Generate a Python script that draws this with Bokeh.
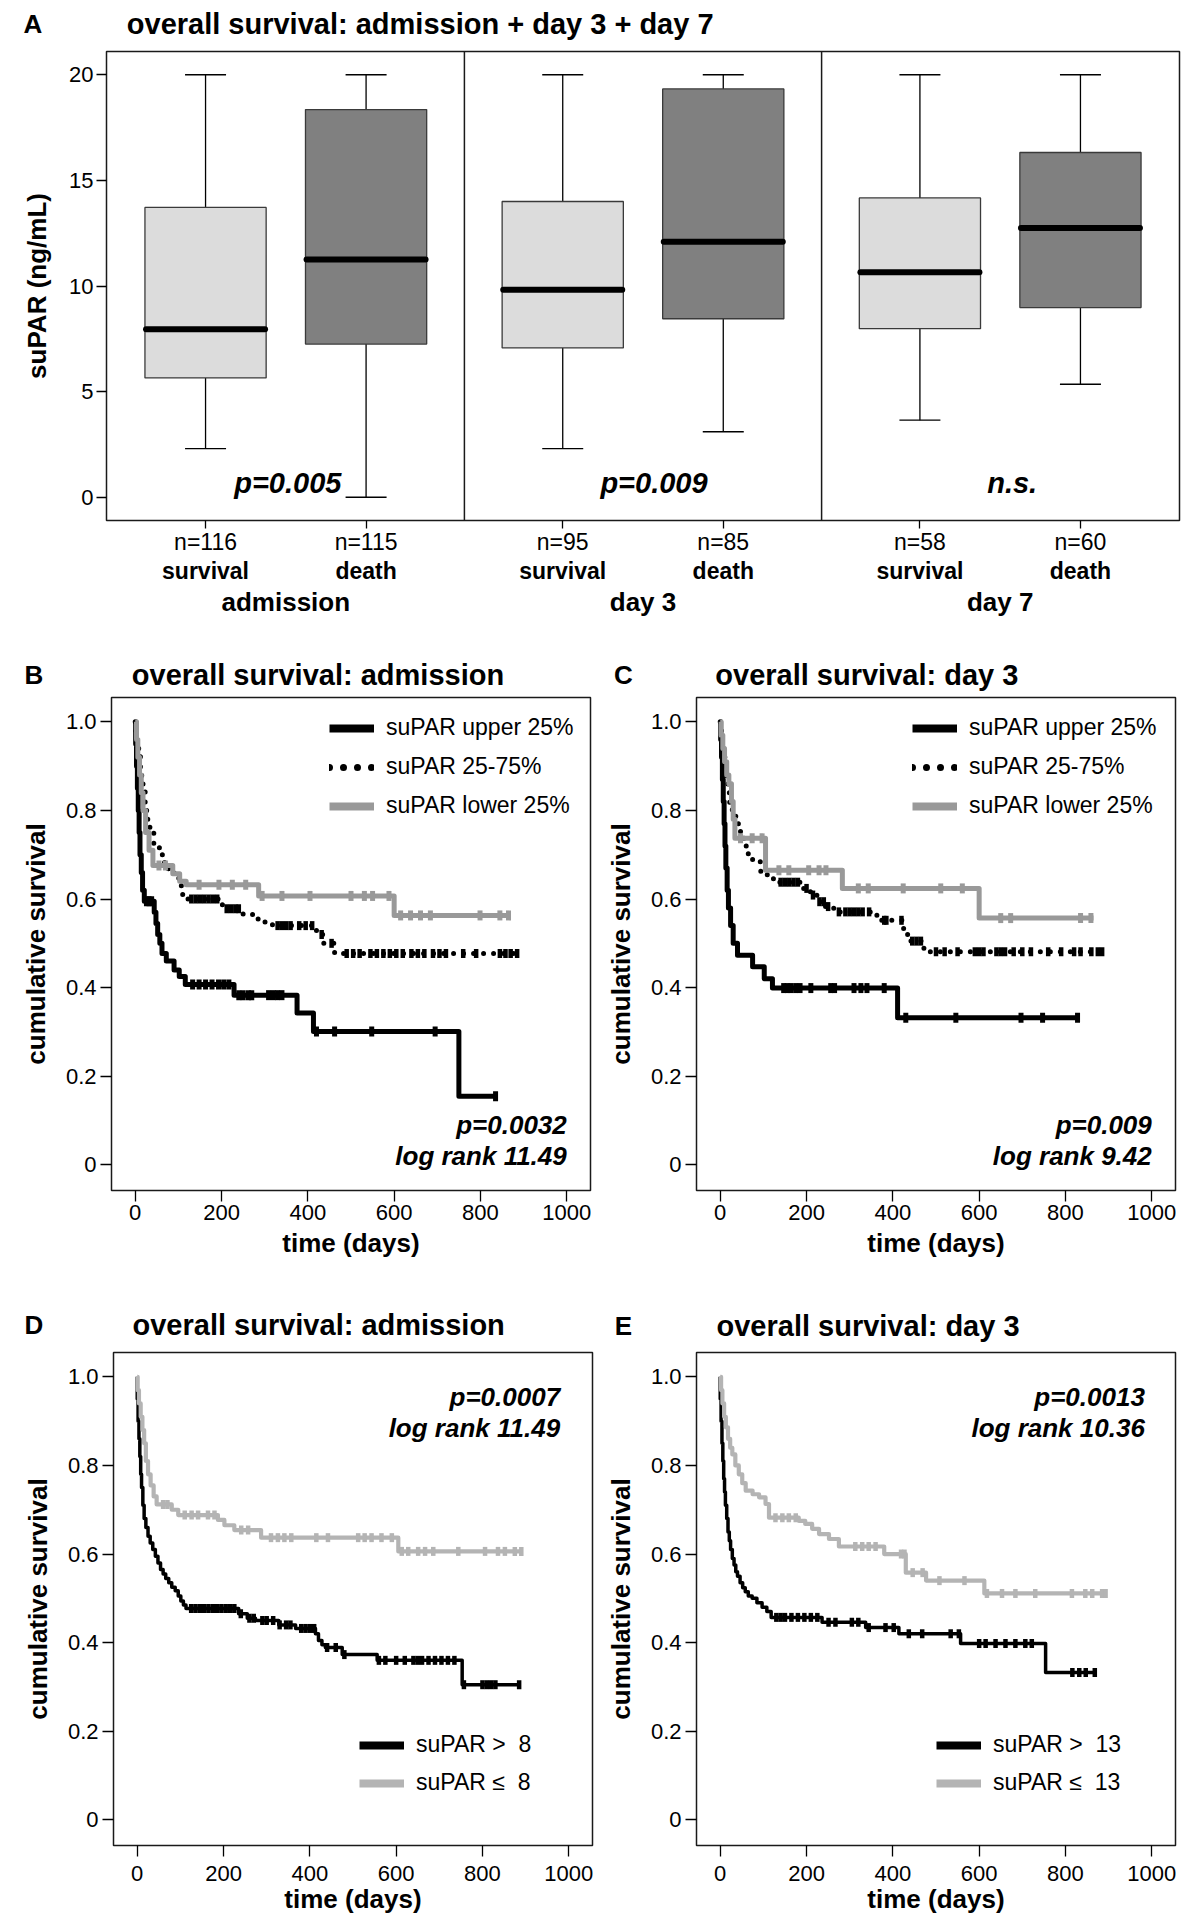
import numpy as np
from bokeh.plotting import figure
from bokeh.models import (FactorRange, Range1d, Span, Legend, LegendItem, Plot,
                          FixedTicker, CustomJSTickFormatter, ColumnDataSource)
from bokeh.layouts import column, row
from bokeh.embed import file_html
from bokeh.resources import INLINE
from bokeh.core.properties import value

FONT = "Liberation Sans"
HAS_FA = "frame_align" in Plot.properties()

# ---------------- Panel A data (box plots) ----------------
groups = ["admission", "day 3", "day 7"]
outcomes = ["survival", "death"]
n_counts = [116, 115, 95, 85, 58, 60]
whisker_low = [2.3, 0.0, 2.3, 3.1, 3.65, 5.35]
q1 = [5.65, 7.25, 7.07, 8.45, 7.98, 8.98]
median = [7.95, 11.25, 9.82, 12.1, 10.65, 12.75]
q3 = [13.72, 18.35, 14.0, 19.33, 14.17, 16.32]
whisker_high = [20.0, 20.0, 20.0, 20.0, 20.0, 20.0]
p_labels_A = ["p=0.005", "p=0.009", "n.s."]
yticks_A = [0, 5, 10, 15, 20]

# ---------------- Kaplan-Meier data ----------------
km_xticks = [0, 200, 400, 600, 800, 1000]
km_yticks = [0, 0.2, 0.4, 0.6, 0.8, 1.0]

# B: admission, quartile groups
b_up_t = [1, 3, 5, 7, 9, 11, 14, 17, 21, 44, 48, 52, 57, 62, 72, 90, 102, 116, 229, 375, 413, 750]
b_up_s = [0.95, 0.90, 0.85, 0.80, 0.75, 0.70, 0.66, 0.62, 0.595, 0.57, 0.545, 0.52, 0.50, 0.477,
          0.46, 0.44, 0.425, 0.407, 0.383, 0.343, 0.301, 0.155]
b_up_end = 835
b_up_c = [26, 32, 38, 133, 148, 163, 178, 193, 205, 217, 240, 250, 262, 270, 309, 320, 330, 340,
          420, 462, 548, 695, 835]

b_mid_t = [2, 5, 8, 12, 15, 18, 23, 28, 34, 43, 56, 68, 77, 90, 101, 110, 119, 202, 250, 275, 300,
           318, 420, 437, 462]
b_mid_s = [0.97, 0.95, 0.93, 0.89, 0.87, 0.85, 0.80, 0.78, 0.75, 0.72, 0.70, 0.68, 0.66, 0.65, 0.63,
           0.61, 0.60, 0.578, 0.565, 0.555, 0.548, 0.54, 0.52, 0.50, 0.477]
b_mid_end = 885
b_mid_c = [130, 140, 150, 160, 170, 180, 190, 212, 222, 232, 240, 330, 340, 350, 360, 380, 395, 410,
           432, 455, 490, 505, 520, 545, 560, 575, 590, 605, 620, 640, 655, 670, 690, 705, 720, 760,
           790, 845, 858, 870, 885]

b_low_t = [3, 6, 10, 14, 18, 24, 32, 41, 87, 103, 118, 286, 600]
b_low_s = [0.96, 0.92, 0.88, 0.84, 0.80, 0.75, 0.71, 0.676, 0.657, 0.64, 0.632, 0.607, 0.563]
b_low_end = 865
b_low_c = [55, 70, 148, 194, 225, 256, 294, 340, 405, 500, 531, 550, 588, 615, 638, 661, 684, 799,
           845, 865]

# C: day 3, quartile groups
c_up_t = [1, 3, 5, 7, 9, 11, 13, 16, 19, 24, 30, 40, 75, 102, 121, 411]
c_up_s = [0.96, 0.92, 0.87, 0.82, 0.77, 0.72, 0.67, 0.62, 0.58, 0.54, 0.50, 0.473, 0.447, 0.42,
          0.399, 0.332]
c_up_end = 828
c_up_c = [147, 155, 164, 175, 185, 210, 256, 265, 310, 326, 340, 380, 430, 546, 697, 747, 828]

c_mid_t = [1, 3, 5, 8, 11, 14, 18, 22, 28, 36, 47, 55, 65, 75, 94, 109, 125, 186, 209, 224, 244,
           263, 363, 425, 437, 472]
c_mid_s = [0.98, 0.96, 0.94, 0.92, 0.90, 0.87, 0.84, 0.81, 0.79, 0.77, 0.745, 0.72, 0.70, 0.684,
           0.657, 0.646, 0.638, 0.624, 0.609, 0.594, 0.583, 0.571, 0.552, 0.52, 0.505, 0.481]
c_mid_end = 885
c_mid_c = [140, 150, 160, 170, 180, 200, 215, 230, 240, 250, 275, 290, 300, 310, 320, 330, 345, 380,
           385, 420, 445, 455, 465, 500, 520, 550, 590, 600, 610, 640, 650, 660, 680, 700, 720, 760,
           790, 820, 835, 860, 875, 885]

c_low_t = [2, 6, 10, 15, 20, 26, 30, 34, 105, 283, 600]
c_low_s = [0.97, 0.94, 0.91, 0.88, 0.86, 0.82, 0.78, 0.737, 0.665, 0.624, 0.557]
c_low_end = 865
c_low_c = [47, 74, 97, 136, 159, 205, 229, 245, 320, 343, 424, 511, 561, 650, 673, 835, 859]

# D: admission, cut-off 8
d_hi_t = [0, 2, 4, 6, 8, 10, 13, 16, 20, 25, 30, 36, 42, 48, 54, 60, 66, 73, 80, 88, 95, 101, 107,
          113, 235, 255, 274, 328, 367, 413, 420, 428, 436, 475, 556, 753]
d_hi_s = [0.95, 0.90, 0.86, 0.82, 0.78, 0.75, 0.71, 0.68, 0.66, 0.64, 0.625, 0.61, 0.595, 0.58,
          0.565, 0.555, 0.545, 0.535, 0.525, 0.517, 0.505, 0.494, 0.485, 0.477, 0.465, 0.455, 0.45,
          0.44, 0.432, 0.42, 0.405, 0.395, 0.389, 0.373, 0.36, 0.305]
d_hi_end = 885
d_hi_c = [125, 135, 145, 155, 165, 175, 185, 195, 205, 215, 225, 240, 260, 270, 290, 300, 315, 330,
          345, 355, 380, 390, 400, 410, 440, 460, 480, 560, 575, 600, 620, 640, 650, 660, 675, 690,
          705, 720, 735, 757, 800, 810, 820, 830, 885]

d_lo_t = [1, 4, 8, 12, 16, 20, 25, 31, 38, 45, 80, 95, 187, 202, 225, 287, 605]
d_lo_s = [0.97, 0.94, 0.91, 0.88, 0.85, 0.81, 0.78, 0.755, 0.73, 0.712, 0.70, 0.688, 0.677, 0.665,
          0.654, 0.637, 0.606]
d_lo_end = 890
d_lo_c = [60, 70, 110, 126, 141, 164, 179, 241, 257, 310, 326, 341, 357, 415, 442, 512, 527, 543,
          566, 590, 613, 628, 651, 667, 686, 744, 806, 836, 852, 875, 890]

# E: day 3, cut-off 13
e_hi_t = [0, 2, 4, 6, 8, 10, 12, 15, 18, 21, 24, 28, 32, 36, 40, 46, 52, 58, 65, 74, 85, 97, 108,
          118, 236, 337, 414, 557, 754]
e_hi_s = [0.95, 0.90, 0.85, 0.81, 0.77, 0.74, 0.71, 0.68, 0.65, 0.63, 0.61, 0.59, 0.575, 0.56, 0.55,
          0.535, 0.524, 0.515, 0.505, 0.50, 0.49, 0.48, 0.47, 0.457, 0.446, 0.434, 0.42, 0.398, 0.3325]
e_hi_end = 868
e_hi_c = [130, 140, 150, 165, 180, 195, 210, 225, 251, 267, 305, 320, 344, 383, 402, 437, 468, 534,
          553, 600, 615, 638, 661, 684, 707, 722, 816, 832, 847, 868]

e_lo_t = [2, 5, 9, 13, 18, 23, 28, 35, 43, 51, 59, 75, 90, 105, 113, 182, 197, 213, 229, 252, 275,
          380, 430, 477, 612]
e_lo_s = [0.97, 0.94, 0.91, 0.886, 0.86, 0.84, 0.825, 0.80, 0.78, 0.76, 0.743, 0.735, 0.728, 0.713,
          0.682, 0.675, 0.668, 0.657, 0.645, 0.634, 0.617, 0.600, 0.558, 0.54, 0.511]
e_lo_end = 893
e_lo_c = [128, 144, 159, 175, 313, 329, 344, 360, 419, 427, 446, 469, 508, 566, 618, 653, 684, 730,
          815, 846, 862, 885, 893]


# ---------------- helpers ----------------
def style_common(p):
    p.xgrid.visible = False
    p.ygrid.visible = False
    p.outline_line_color = "#1a1a1a"
    p.outline_line_width = 1.5
    p.background_fill_color = "white"
    p.border_fill_color = "white"
    for ax in p.axis:
        ax.axis_line_color = None
        ax.minor_tick_line_color = None
        ax.major_tick_in = 0
        ax.major_tick_line_color = "black"
        ax.major_tick_line_width = 1.3
        ax.major_label_text_font = FONT
        ax.major_label_text_color = "black"
        ax.major_label_text_font_size = "22px"
        ax.axis_label_text_font = FONT
        ax.axis_label_text_font_style = "bold"
        ax.axis_label_text_color = "black"
        ax.axis_label_text_font_size = "26px"


def make_strip(width, height, letter, letter_x, title, title_x, y, ml, mr):
    kw = {}
    if HAS_FA:
        kw["frame_align"] = False
        xr = Range1d(0, width)
    else:
        xr = Range1d(ml, width - mr)
    s = figure(width=width, height=height, x_range=xr, y_range=Range1d(0, height),
               x_axis_type=None, y_axis_type=None, title=None, output_backend="svg",
               toolbar_location=None, min_border=0, outline_line_color=None, **kw)
    s.grid.visible = False
    s.text(x=[letter_x], y=[y], text=[letter], text_align="center", text_baseline="middle",
           text_font=value(FONT), text_font_size="26px", text_font_style="bold",
           text_color="black")
    s.text(x=[title_x], y=[y], text=[title], text_align="left", text_baseline="middle",
           text_font=value(FONT), text_font_size="29px", text_font_style="bold",
           text_color="black")
    return s


def km_xy(times, surv, end):
    xs = [0.0] + list(times) + [end]
    ys = [1.0] + list(surv) + [surv[-1]]
    return xs, ys


def surv_at(times, surv, t):
    i = np.searchsorted(np.asarray(times, dtype=float), t, side="right") - 1
    return 1.0 if i < 0 else surv[i]


def build_km(curves, legend_labels, legend_loc, legend_spacing, ptexts, p_x, p_ys,
             width, height, ml, mr, mt, mb, lab_standoff, title_standoff):
    p = figure(width=width, height=height, x_range=Range1d(-55, 1055),
               y_range=Range1d(-0.058, 1.055), title=None, output_backend="svg",
               toolbar_location=None,
               min_border_left=ml, min_border_right=mr, min_border_top=mt, min_border_bottom=mb)
    style_common(p)
    p.xaxis.ticker = FixedTicker(ticks=km_xticks)
    p.yaxis.ticker = FixedTicker(ticks=km_yticks)
    p.yaxis.formatter = CustomJSTickFormatter(code="return tick == 0 ? '0' : tick.toFixed(1);")
    p.xaxis.axis_label = "time (days)"
    p.yaxis.axis_label = "cumulative survival"
    p.xaxis.major_tick_out = 11
    p.xaxis.major_label_standoff = lab_standoff
    p.xaxis.axis_label_standoff = title_standoff
    p.yaxis.major_tick_out = 11
    p.yaxis.major_label_standoff = 4
    p.yaxis.axis_label_standoff = 12

    items = []
    for (times, surv, end, cens, st), lab in zip(curves, legend_labels):
        xs, ys = km_xy(times, surv, end)
        p.step(x=xs, y=ys, mode="after", line_color=st["color"], line_width=st["width"],
               line_dash=st["dash"], line_cap=st["cap"], line_join="round")
        cy = [surv_at(times, surv, t) for t in cens]
        p.scatter(x=cens, y=cy, marker="dash", angle=np.pi / 2, size=st["msize"],
                  line_color=st["mcolor"], line_width=st["mwidth"])
        # legend-only line (single NaN point, nothing drawn in the plot)
        key = p.line(x=np.array([np.nan]), y=np.array([np.nan]), line_color=st["color"],
                     line_width=st["lwidth"], line_dash=st["ldash"], line_cap=st["cap"])
        items.append(LegendItem(label=lab, renderers=[key]))

    leg = Legend(items=items, location=legend_loc, border_line_color=None,
                 background_fill_alpha=0, padding=0, margin=0, spacing=legend_spacing,
                 glyph_width=45, glyph_height=26, label_height=26, label_standoff=12,
                 label_text_font=FONT, label_text_font_size="23px", label_text_color="black")
    p.add_layout(leg)

    p.text(x=[p_x, p_x], y=p_ys, text=ptexts, text_align="right", text_baseline="middle",
           text_font=value(FONT), text_font_size="26px", text_font_style="bold italic",
           text_color="black")
    return p


# ---------------- Panel A ----------------
GP = 0.225
factors = []
k = 0
for g in groups:
    for o in outcomes:
        factors.append((g, o, "n=%d" % n_counts[k]))
        k += 1
fills = ["#dcdcdc" if f[1] == "survival" else "#808080" for f in factors]

xr = FactorRange(*factors, group_padding=GP, subgroup_padding=0.0, factor_padding=0.0,
                 range_padding=0.117, range_padding_units="absolute")
pA = figure(x_range=xr, y_range=Range1d(-1.1, 21.1), width=1200, height=595, title=None,
            output_backend="svg", toolbar_location=None,
            min_border_left=106, min_border_right=21, min_border_top=6, min_border_bottom=120)
style_common(pA)
srcA = ColumnDataSource(dict(x=factors, lo=whisker_low, q1=q1, med=median, q3=q3,
                             hi=whisker_high, fill=fills))
pA.segment(x0="x", y0="q3", x1="x", y1="hi", line_color="black", line_width=1.3, source=srcA)
pA.segment(x0="x", y0="q1", x1="x", y1="lo", line_color="black", line_width=1.3, source=srcA)
pA.scatter(x="x", y="hi", marker="dash", size=41, line_color="black", line_width=1.3, source=srcA)
pA.scatter(x="x", y="lo", marker="dash", size=41, line_color="black", line_width=1.3, source=srcA)
pA.vbar(x="x", top="q3", bottom="q1", width=0.755, fill_color="fill", line_color="#3a3a3a",
        line_width=1.3, source=srcA)
pA.scatter(x="x", y="med", marker="dash", size=119, line_color="black", line_width=6,
           line_cap="round", source=srcA)

for gi in range(len(groups) - 1):
    loc = (gi + 1) * (len(outcomes) + GP) - GP / 2
    pA.add_layout(Span(location=loc, dimension="height", line_color="#1a1a1a", line_width=1.5))

pA.text(x=groups, y=[0.68] * len(groups), text=p_labels_A, x_offset=[2, 11, 12],
        text_align="center", text_baseline="middle", text_font=value(FONT),
        text_font_size="29px", text_font_style="bold italic", text_color="black")

pA.yaxis.ticker = FixedTicker(ticks=yticks_A)
pA.yaxis.axis_label = "suPAR (ng/mL)"
pA.yaxis.major_tick_out = 10
pA.yaxis.major_label_standoff = 3
pA.yaxis.axis_label_standoff = 14
xa = pA.xaxis[0]
xa.major_tick_out = 8
xa.major_label_standoff = 0
xa.major_label_text_font_size = "23px"
xa.subgroup_text_font = FONT
xa.subgroup_text_font_size = "23px"
xa.subgroup_text_font_style = "bold"
xa.subgroup_text_color = "black"
xa.group_text_font = FONT
xa.group_text_font_size = "26px"
xa.group_text_font_style = "bold"
xa.group_text_color = "black"
xa.separator_line_color = None

stripA = make_strip(1200, 45, "A", 32.5, "overall survival: admission + day 3 + day 7", 126.3,
                    21.3, 106, 21)

# ---------------- KM styles ----------------
sty_black = dict(color="black", width=5, dash="solid", cap="butt", msize=10, mcolor="black",
                 mwidth=5, lwidth=8, ldash="solid")
sty_dot = dict(color="black", width=5, dash="0 10", cap="round", msize=9, mcolor="black",
               mwidth=4.5, lwidth=7, ldash="0 14")
sty_gray = dict(color="#999999", width=5, dash="solid", cap="butt", msize=10, mcolor="#999999",
                mwidth=5, lwidth=8, ldash="solid")
sty_black2 = dict(color="black", width=3.5, dash="solid", cap="butt", msize=9, mcolor="black",
                  mwidth=4.5, lwidth=8, ldash="solid")
sty_gray2 = dict(color="#b4b4b4", width=4.2, dash="solid", cap="butt", msize=9, mcolor="#b4b4b4",
                 mwidth=4.5, lwidth=8, ldash="solid")

quart_labels = ["suPAR upper 25%", "suPAR 25-75%", "suPAR lower 25%"]

pB = build_km([(b_up_t, b_up_s, b_up_end, b_up_c, sty_black),
               (b_mid_t, b_mid_s, b_mid_end, b_mid_c, sty_dot),
               (b_low_t, b_low_s, b_low_end, b_low_c, sty_gray)],
              quart_labels, (218, 371), 12, ["p=0.0032", "log rank 11.49"], 1000, [0.09, 0.019],
              600, 604, 111, 10, 6, 105, 3, 5)
pC = build_km([(c_up_t, c_up_s, c_up_end, c_up_c, sty_black),
               (c_mid_t, c_mid_s, c_mid_end, c_mid_c, sty_dot),
               (c_low_t, c_low_s, c_low_end, c_low_c, sty_gray)],
              quart_labels, (216, 371), 12, ["p=0.009", "log rank 9.42"], 1000, [0.09, 0.019],
              600, 604, 96, 25, 6, 105, 3, 5)
pD = build_km([(d_hi_t, d_hi_s, d_hi_end, d_hi_c, sty_black2),
               (d_lo_t, d_lo_s, d_lo_end, d_lo_c, sty_gray2)],
              ["suPAR >  8", "suPAR \u2264  8"], (246, 49), 11, ["p=0.0007", "log rank 11.49"],
              980, [0.955, 0.885], 600, 578, 113, 8, 6, 79, 9, 0)
pE = build_km([(e_hi_t, e_hi_s, e_hi_end, e_hi_c, sty_black2),
               (e_lo_t, e_lo_s, e_lo_end, e_lo_c, sty_gray2)],
              ["suPAR >  13", "suPAR \u2264  13"], (240, 49), 11, ["p=0.0013", "log rank 10.36"],
              984, [0.955, 0.885], 600, 578, 96, 25, 6, 79, 9, 0)

stripB = make_strip(600, 51, "B", 33.3, "overall survival: admission", 131.3, 16.2, 111, 10)
stripC = make_strip(600, 51, "C", 23.0, "overall survival: day 3", 114.8, 16.2, 96, 25)
stripD = make_strip(600, 51, "D", 33.3, "overall survival: admission", 132.0, 21.6, 113, 8)
stripE = make_strip(600, 51, "E", 23.0, "overall survival: day 3", 116.0, 20.4, 96, 25)

layout = column(stripA, pA,
                row(column(stripB, pB), column(stripC, pC)),
                row(column(stripD, pD), column(stripE, pE)))
open("out.html", "w").write(file_html(layout, INLINE))
